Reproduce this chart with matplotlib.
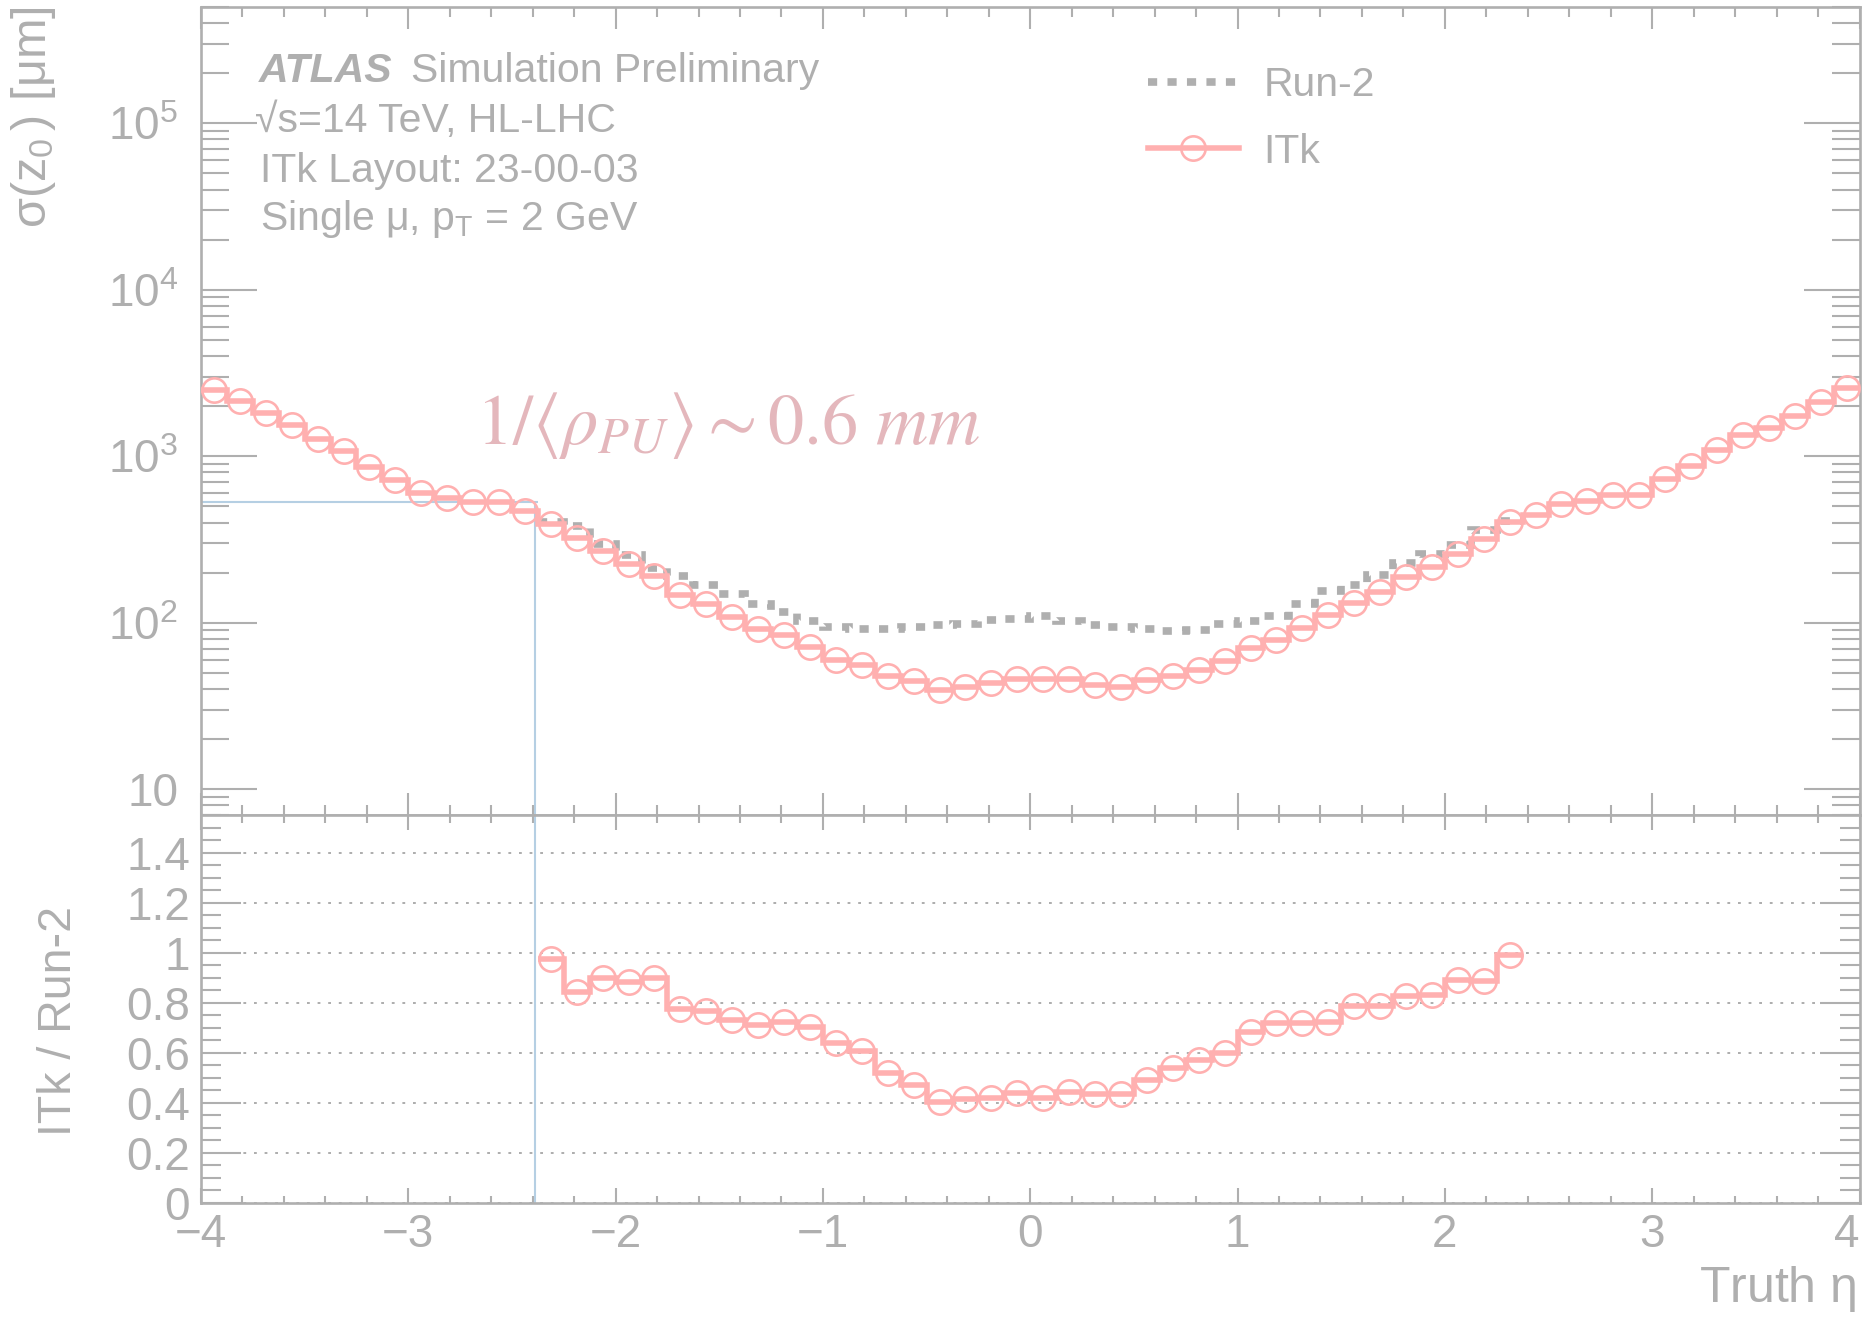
import numpy as np
import matplotlib
matplotlib.use("Agg")
import matplotlib.pyplot as plt
from matplotlib.ticker import MultipleLocator, LogLocator, FuncFormatter, NullFormatter
from matplotlib.lines import Line2D

# ---------------- data ----------------
eta_min, eta_max, n_bins = -4.0, 4.0, 64

# ITk sigma(z0) [um] per truth-eta bin (64 bins, width 0.125)
itk_sigma_z0 = [2518, 2163, 1824, 1535, 1277, 1072, 863, 724, 603, 562,
                529, 529, 467, 393, 323, 269, 226, 192, 147, 130,
                109, 92, 84, 71.5, 60.0, 55.7, 47.6, 44.4, 39.2, 41.0,
                43.4, 46.2, 45.9, 45.9, 42.0, 41.0, 45.4, 48.2, 52.1, 59.1,
                70.5, 78.3, 93.0, 112, 132, 153, 188, 215, 260, 320,
                403, 446, 519, 536, 589, 589, 735, 879, 1097, 1337,
                1481, 1741, 2124, 2576]

# ITk / Run-2 ratio, defined for bins 13..50 (|eta| < 2.375)
ratio_first_bin = 13
ratio_itk_run2 = [0.975, 0.844, 0.900, 0.884, 0.898, 0.775, 0.767, 0.731, 0.711, 0.722,
                  0.702, 0.638, 0.609, 0.519, 0.472, 0.402, 0.417, 0.419, 0.439, 0.419,
                  0.445, 0.435, 0.435, 0.492, 0.541, 0.572, 0.601, 0.685, 0.718, 0.718,
                  0.725, 0.787, 0.787, 0.827, 0.831, 0.891, 0.888, 0.991]

ref_level = 529.0      # horizontal reference line [um]
ref_eta = -2.39        # vertical reference line (eta)
ref_eta_hend = -2.375

legend_labels = ["Run-2", "ITk"]

# ---------------- derived ----------------
edges = np.linspace(eta_min, eta_max, n_bins + 1)
centers = 0.5 * (edges[:-1] + edges[1:])
itk = np.array(itk_sigma_z0, dtype=float)
ratio = np.array(ratio_itk_run2, dtype=float)
nr = len(ratio)
r_edges = edges[ratio_first_bin:ratio_first_bin + nr + 1]
r_centers = centers[ratio_first_bin:ratio_first_bin + nr]
run2 = itk[ratio_first_bin:ratio_first_bin + nr] / ratio

# ---------------- style ----------------
GRAY = "#afafaf"
PINK = "#ffb0b0"
ANNOT = "#e4b7bc"
BLUE = "#b5cfe3"

plt.rcParams["font.family"] = ["Liberation Sans", "DejaVu Sans"]
plt.rcParams["mathtext.fontset"] = "custom"
plt.rcParams["mathtext.rm"] = "Liberation Sans"
plt.rcParams["mathtext.it"] = "Liberation Sans:italic"
plt.rcParams["mathtext.bf"] = "Liberation Sans:bold"
plt.rcParams["mathtext.default"] = "regular"

W, H = 1865, 1317
fig = plt.figure(figsize=(W / 100, H / 100), dpi=100)

L, R = 201, 1859.5
ax = fig.add_axes([L / W, 1 - 815 / H, (R - L) / W, (815 - 7) / H])
axr = fig.add_axes([L / W, 1 - 1203 / H, (R - L) / W, (1203 - 815) / H])

TICKFS = 33
MARK_MS = 17.5
MARK_MEW = 1.9
LW_ITK = 4.0
LW_RUN2 = 5.5
DASH_RUN2 = (0, (1.2, 1.35))

# ---------------- main panel ----------------
ax.set_yscale("log")
ax.set_xlim(eta_min, eta_max)
ax.set_ylim(7, 5e5)

ax.hlines(ref_level, eta_min, ref_eta_hend, color=BLUE, lw=1.5, zorder=1.5)
ax.vlines(ref_eta, 7, ref_level, color=BLUE, lw=1.5, zorder=1.5)

ax.stairs(run2, r_edges, baseline=None, color=GRAY, lw=LW_RUN2,
          linestyle=DASH_RUN2, zorder=2)
ax.stairs(itk, edges, baseline=None, color=PINK, lw=LW_ITK, zorder=3)
ax.plot(centers, itk, "o", mfc="none", mec=PINK, ms=MARK_MS, mew=MARK_MEW, zorder=4)

ax.xaxis.set_major_locator(MultipleLocator(1))
ax.xaxis.set_minor_locator(MultipleLocator(0.2))
ax.yaxis.set_major_locator(LogLocator(base=10, numticks=20))
ax.yaxis.set_minor_locator(LogLocator(base=10, subs=np.arange(2, 10), numticks=20))
ax.yaxis.set_major_formatter(FuncFormatter(
    lambda v, p: "10" if abs(v - 10) < 1e-6 else r"$10^{%d}$" % int(round(np.log10(v)))))
ax.yaxis.set_minor_formatter(NullFormatter())

ax.tick_params(axis="both", which="both", direction="in", top=True, right=True,
               labelbottom=False, color=GRAY, labelcolor=GRAY, width=1.5)
ax.tick_params(axis="y", which="major", length=40.3, pad=16.5, labelsize=TICKFS)
ax.tick_params(axis="y", which="minor", length=20.2)
ax.tick_params(axis="x", which="major", length=15.8)
ax.tick_params(axis="x", which="minor", length=7.5)

# ---------------- ratio panel ----------------
axr.set_xlim(eta_min, eta_max)
axr.set_ylim(0, 1.55)
axr.yaxis.grid(True, which="major", color=GRAY, lw=1.44, linestyle=(0, (1.4, 3.9)))
axr.set_axisbelow(True)
axr.axvline(ref_eta, color=BLUE, lw=1.5, zorder=1.5)
axr.stairs(ratio, r_edges, baseline=None, color=PINK, lw=LW_ITK, zorder=3)
axr.plot(r_centers, ratio, "o", mfc="none", mec=PINK, ms=MARK_MS, mew=MARK_MEW, zorder=4)

axr.xaxis.set_major_locator(MultipleLocator(1))
axr.xaxis.set_minor_locator(MultipleLocator(0.2))
axr.yaxis.set_major_locator(MultipleLocator(0.2))
axr.yaxis.set_minor_locator(MultipleLocator(0.05))
axr.yaxis.set_major_formatter(FuncFormatter(lambda v, p: "%g" % round(v, 2)))
axr.xaxis.set_major_formatter(FuncFormatter(lambda v, p: ("%d" % round(v)).replace("-", "\u2212")))

axr.tick_params(axis="both", which="both", direction="in", top=True, right=True,
                color=GRAY, labelcolor=GRAY, width=1.5, labelsize=TICKFS)
axr.tick_params(axis="y", which="major", length=28.8, pad=8)
axr.tick_params(axis="y", which="minor", length=14.4)
axr.tick_params(axis="x", which="major", length=10.8, pad=7)
axr.tick_params(axis="x", which="minor", length=5.4)

for a in (ax, axr):
    for s in a.spines.values():
        s.set_color(GRAY)
        s.set_linewidth(1.9)

# keep the last x tick label inside the canvas, as in the reference
fig.canvas.draw()
for tk in axr.xaxis.get_major_ticks():
    if abs(tk.get_loc() - eta_max) < 1e-9:
        tk.label1.set_horizontalalignment("right")

# ---------------- texts ----------------
TXT = 29.5
def fx(x): return x / W
def fy(y): return 1 - y / H

fig.text(fx(259), fy(81.7), "ATLAS", fontsize=TXT, color=GRAY,
         fontweight="bold", fontstyle="italic", va="baseline")
fig.text(fx(411), fy(81.7), "Simulation Preliminary", fontsize=TXT, color=GRAY, va="baseline")
fig.text(fx(255), fy(131.7), "\u221as=14 TeV, HL-LHC", fontsize=TXT, color=GRAY, va="baseline")
fig.text(fx(260), fy(181.7), "ITk Layout: 23-00-03", fontsize=TXT, color=GRAY, va="baseline")
fig.text(fx(260), fy(230), r"Single $\mu$, $p_{T}$ = 2 GeV", fontsize=TXT, color=GRAY, va="baseline")

fig.text(fx(476), fy(444), r"$1/\langle\mathit{\rho}_{\mathit{PU}}\rangle\sim0.6\ \mathit{mm}$",
         fontsize=52, color=ANNOT, family="STIXGeneral", math_fontfamily="stix", va="baseline")

fig.text(fx(34), fy(6), r"$\sigma(z_{0}\,)$ [$\mu$m]", fontsize=35, color=GRAY,
         rotation=90, ha="center", va="top")
fig.text(fx(59), fy(1021), "ITk / Run-2", fontsize=33.5, color=GRAY,
         rotation=90, ha="center", va="center")
fig.text(fx(1856), fy(1302), r"Truth $\eta$", fontsize=36, color=GRAY,
         ha="right", va="baseline")

# ---------------- legend ----------------
h_run2 = Line2D([], [], color=GRAY, lw=LW_RUN2, linestyle=DASH_RUN2)
h_itk = Line2D([], [], color=PINK, lw=LW_ITK, marker="o", mfc="none", mec=PINK,
               ms=MARK_MS, mew=MARK_MEW)
leg = ax.legend([h_run2, h_itk], legend_labels, loc="upper left",
                bbox_to_anchor=(fx(1148), fy(66)), bbox_transform=fig.transFigure,
                frameon=False, borderpad=0, borderaxespad=0, fontsize=TXT,
                handlelength=2.22, handletextpad=0.59, labelspacing=0.70, numpoints=1)
for t in leg.get_texts():
    t.set_color(GRAY)

fig.savefig("out.png", dpi=100)
